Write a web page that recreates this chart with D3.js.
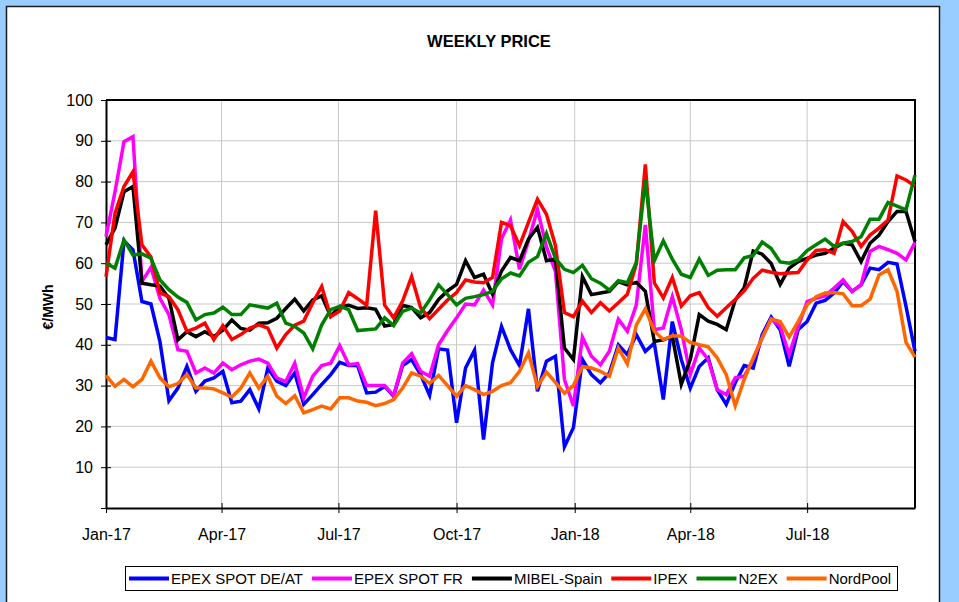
<!DOCTYPE html>
<html>
<head>
<meta charset="utf-8">
<script src="https://cdn.jsdelivr.net/npm/d3@7"></script>
<style>
  body { margin: 0; background: #99ccff; }
  svg { display: block; font-family: Arial, "Liberation Sans", sans-serif; }
</style>
</head>
<body>
<div id="chart-area"></div>
<script>
// weekly prices, first week starts 1 Jan 2017
const START = Date.UTC(2017, 0, 1)

const seriesNames = ["EPEX SPOT DE/AT", "EPEX SPOT FR", "MIBEL-Spain", "IPEX", "N2EX", "NordPool"]
const seriesColors = ["#0000ff", "#ff00ff", "#000000", "#ff0000", "#008000", "#ff6600"]

const deat = [
  41.8, 41.3, 65.5, 63.3, 50.6, 50.0, 40.8, 26.3, 29.4, 34.7,
  28.6, 31.1, 31.9, 33.5, 25.8, 26.2, 29.0, 24.3, 34.3, 31.1,
  30.0, 33.1, 25.4, 27.8, 30.3, 32.7, 35.7, 34.9, 34.9, 28.2,
  28.4, 29.8, 27.4, 34.9, 36.4, 32.7, 27.6, 39.0, 38.7, 20.9,
  34.3, 38.7, 16.8, 35.6, 44.5, 38.8, 34.9, 48.8, 28.6, 36.0,
  37.2, 15.0, 19.7, 36.4, 32.7, 30.7, 33.1, 40.0, 37.6, 42.5,
  38.4, 40.4, 26.6, 45.7, 36.4, 29.4, 34.7, 36.8, 29.0, 25.4,
  30.7, 34.9, 34.3, 42.5, 46.8, 43.7, 34.7, 43.7, 45.7, 50.2,
  50.9, 52.7, 55.5, 53.1, 54.7, 58.8, 58.4, 60.2, 59.8, 49.4,
  38.4]

const fr = [
  66.5, 77.5, 89.8, 91.0, 55.5, 59.0, 51.4, 47.4, 38.8, 38.4,
  33.1, 34.3, 33.1, 35.5, 33.9, 35.1, 36.0, 36.5, 35.5, 31.9,
  31.0, 35.5, 27.0, 32.3, 34.9, 35.5, 39.8, 35.1, 35.4, 30.0,
  30.0, 30.0, 27.6, 35.5, 37.8, 33.5, 32.3, 40.0, 43.5, 46.6,
  50.0, 49.8, 53.4, 49.8, 66.0, 70.6, 58.5, 65.5, 73.2, 64.0,
  58.0, 31.5, 25.0, 41.9, 37.2, 35.1, 38.4, 46.3, 43.3, 49.8,
  69.4, 43.7, 44.1, 51.8, 43.7, 32.7, 39.2, 36.4, 29.0, 27.8,
  31.9, 32.3, 36.4, 41.7, 46.3, 44.5, 37.6, 44.5, 50.6, 51.4,
  52.0, 53.9, 55.9, 53.1, 54.7, 62.9, 64.1, 63.3, 62.4, 60.8,
  65.1]

const mibel = [
  64.5, 68.6, 77.5, 78.8, 55.1, 54.7, 54.4, 51.4, 41.2, 43.2,
  42.0, 43.2, 42.0, 43.6, 46.1, 44.0, 43.6, 45.3, 45.4, 46.5,
  48.9, 51.2, 48.3, 51.0, 52.0, 47.0, 49.4, 49.7, 48.9, 49.1,
  48.7, 44.6, 45.0, 49.7, 49.1, 46.6, 47.9, 51.1, 53.2, 54.8,
  60.6, 56.5, 57.3, 52.4, 58.1, 61.4, 60.6, 65.9, 68.8, 60.6,
  61.0, 39.2, 36.4, 56.7, 52.3, 52.7, 53.1, 55.5, 54.7, 55.3,
  53.1, 40.8, 41.2, 42.1, 30.3, 36.4, 47.4, 45.8, 45.0, 43.7,
  51.0, 54.0, 63.0, 62.2, 59.9, 54.8, 58.8, 60.4, 61.2, 62.0,
  62.4, 63.7, 64.9, 64.5, 60.4, 64.9, 66.9, 70.2, 72.7, 72.7,
  65.3]

const ipex = [
  56.7, 72.2, 78.8, 82.4, 64.5, 61.5, 52.7, 51.8, 48.6, 43.3,
  44.1, 45.3, 41.3, 44.7, 41.3, 42.5, 44.1, 44.9, 44.1, 39.2,
  42.5, 44.8, 45.8, 50.3, 54.3, 46.9, 48.3, 52.8, 51.3, 49.7,
  72.9, 49.7, 46.6, 50.7, 56.7, 49.1, 46.4, 48.7, 51.0, 52.8,
  55.9, 55.4, 55.2, 56.5, 70.0, 69.2, 64.3, 70.0, 75.7, 72.0,
  64.3, 47.9, 46.9, 50.7, 47.9, 50.3, 48.3, 50.3, 52.4, 59.8,
  84.2, 55.2, 51.5, 56.5, 49.5, 52.0, 52.8, 49.1, 47.0, 49.1,
  51.1, 53.2, 56.3, 58.3, 57.8, 57.4, 57.6, 57.7, 60.8, 63.1,
  63.3, 62.4, 70.2, 67.8, 64.1, 66.9, 68.6, 70.6, 81.4, 80.4,
  78.9]

const n2ex = [
  60.0, 58.8, 65.7, 62.0, 62.3, 61.2, 55.9, 53.5, 51.7, 50.4,
  46.1, 47.4, 47.8, 49.2, 47.4, 47.4, 49.8, 49.4, 49.0, 50.2,
  45.3, 44.5, 42.9, 39.0, 44.9, 48.6, 49.4, 48.6, 43.5, 43.7,
  43.9, 46.6, 44.7, 48.2, 49.0, 47.8, 51.0, 54.7, 52.3, 49.8,
  51.4, 51.8, 52.3, 53.1, 56.2, 57.6, 56.9, 60.2, 61.6, 67.3,
  61.2, 58.5, 57.7, 59.5, 56.2, 55.1, 53.4, 55.7, 55.2, 60.2,
  80.5, 60.6, 65.5, 61.0, 57.3, 56.5, 61.0, 57.0, 58.3, 58.4,
  58.4, 61.3, 61.9, 65.2, 63.6, 60.3, 60.0, 60.8, 63.1, 64.5,
  65.9, 64.1, 64.9, 65.3, 66.5, 70.8, 70.8, 74.9, 74.0, 73.1,
  81.6]

const nordpool = [
  32.5, 29.8, 31.5, 29.7, 31.5, 36.0, 31.9, 29.7, 30.5, 32.7,
  29.4, 29.4, 29.2, 28.2, 27.2, 29.4, 33.1, 29.4, 32.3, 27.4,
  25.6, 27.5, 23.3, 24.1, 25.0, 24.3, 27.0, 27.0, 26.2, 25.9,
  25.1, 25.6, 26.6, 29.4, 33.1, 32.3, 30.5, 32.5, 30.0, 27.4,
  30.0, 29.0, 27.8, 28.6, 30.0, 30.7, 33.5, 38.0, 29.8, 33.3,
  30.8, 28.1, 30.0, 34.7, 34.3, 33.5, 32.3, 39.2, 35.3, 44.9,
  48.8, 43.3, 41.3, 42.2, 42.1, 40.6, 40.0, 39.5, 36.8, 32.7,
  25.0, 31.5, 36.8, 41.7, 46.3, 45.7, 41.9, 45.7, 49.8, 51.8,
  52.7, 52.8, 52.5, 49.6, 49.6, 51.2, 57.1, 58.4, 53.1, 40.6,
  37.0]

const yTicks = [0, 10, 20, 30, 40, 50, 60, 70, 80, 90, 100]

const series = [deat, fr, mibel, ipex, n2ex, nordpool]
const weeks = d3.range(deat.length).map(i => new Date(START + i * 7 * 864e5))

const W = 959, H = 602
const MARGIN = {LEFT: 106, RIGHT: 44, TOP: 100, BOTTOM: 94}
const WIDTH = W - MARGIN.LEFT - MARGIN.RIGHT
const HEIGHT = H - MARGIN.TOP - MARGIN.BOTTOM

const svg = d3.select("#chart-area").append("svg")
    .attr("width", W)
    .attr("height", H)

// white panel on the blue page
svg.append("rect")
    .attr("x", 6.5).attr("y", 6.5)
    .attr("width", 933).attr("height", 610)
    .attr("fill", "#fff")
    .attr("stroke", "#1a1a1a")
    .attr("stroke-width", 1.5)

svg.append("text")
    .attr("x", 489)
    .attr("y", 47)
    .attr("text-anchor", "middle")
    .attr("font-size", "16.5px")
    .attr("font-weight", "bold")
    .text("WEEKLY PRICE")

svg.append("text")
    .attr("transform", "translate(53,307) rotate(-90)")
    .attr("text-anchor", "middle")
    .attr("font-size", "14px")
    .attr("font-weight", "bold")
    .text("€/MWh")

const g = svg.append("g")
    .attr("transform", `translate(${MARGIN.LEFT},${MARGIN.TOP})`)

const x = d3.scaleUtc().domain([weeks[0], weeks[weeks.length - 1]]).range([0, WIDTH])
const y = d3.scaleLinear().domain([0, 100]).range([HEIGHT, 0])
const xTicks = x.ticks(d3.utcMonth.every(3))

// grid
g.selectAll(".hgrid").data(yTicks.slice(1, -1)).enter().append("line")
    .attr("class", "hgrid")
    .attr("x1", 0).attr("x2", WIDTH)
    .attr("y1", d => y(d)).attr("y2", d => y(d))
    .attr("stroke", "#c8c8c8")
g.selectAll(".vgrid").data(xTicks.slice(1)).enter().append("line")
    .attr("class", "vgrid")
    .attr("x1", d => x(d)).attr("x2", d => x(d))
    .attr("y1", 0).attr("y2", HEIGHT)
    .attr("stroke", "#c8c8c8")

// plot frame top and right
g.append("path")
    .attr("d", `M0,0H${WIDTH}V${HEIGHT}`)
    .attr("fill", "none")
    .attr("stroke", "#000")
    .attr("stroke-width", 2)

const yAxisCall = d3.axisLeft(y)
    .tickValues(yTicks)
    .tickFormat(d => d === 0 ? "" : d)
    .tickSizeInner(5).tickSizeOuter(0).tickPadding(8)
const yAxis = g.append("g").attr("class", "y axis").call(yAxisCall)
yAxis.selectAll(".tick line").attr("x1", 5).attr("stroke", "#000")

const xAxisCall = d3.axisBottom(x)
    .tickValues(xTicks)
    .tickFormat(d3.utcFormat("%b-%y"))
    .tickSizeInner(5).tickSizeOuter(0).tickPadding(16)
const xAxis = g.append("g")
    .attr("class", "x axis")
    .attr("transform", `translate(0,${HEIGHT})`)
    .call(xAxisCall)
xAxis.selectAll(".tick line").attr("y1", -5).attr("stroke", "#000")

g.selectAll(".axis .domain").attr("stroke", "#000").attr("stroke-width", 2)
g.selectAll(".axis text").attr("font-size", "16px").attr("fill", "#000")
    .attr("font-family", "Arial, 'Liberation Sans', sans-serif")

// lines
const line = d3.line()
    .x((d, i) => x(weeks[i]))
    .y(d => y(d))

g.selectAll(".series").data(series).enter().append("path")
    .attr("class", "series")
    .attr("d", line)
    .attr("fill", "none")
    .attr("stroke", (d, i) => seriesColors[i])
    .attr("stroke-width", 3.5)
    .attr("stroke-linejoin", "miter")

// legend
const legend = svg.append("g")
legend.append("rect")
    .attr("x", 125.5).attr("y", 566.5)
    .attr("width", 772).attr("height", 24)
    .attr("fill", "#fff")
    .attr("stroke", "#000")

let lx = 129
seriesNames.forEach((name, i) => {
    legend.append("line")
        .attr("x1", lx).attr("x2", lx + 40)
        .attr("y1", 578.5).attr("y2", 578.5)
        .attr("stroke", seriesColors[i])
        .attr("stroke-width", 4)
    const t = legend.append("text")
        .attr("x", lx + 42)
        .attr("y", 584)
        .attr("font-size", "15px")
        .text(name)
    lx += 42 + t.node().getComputedTextLength() + 9
})
</script>
</body>
</html>
